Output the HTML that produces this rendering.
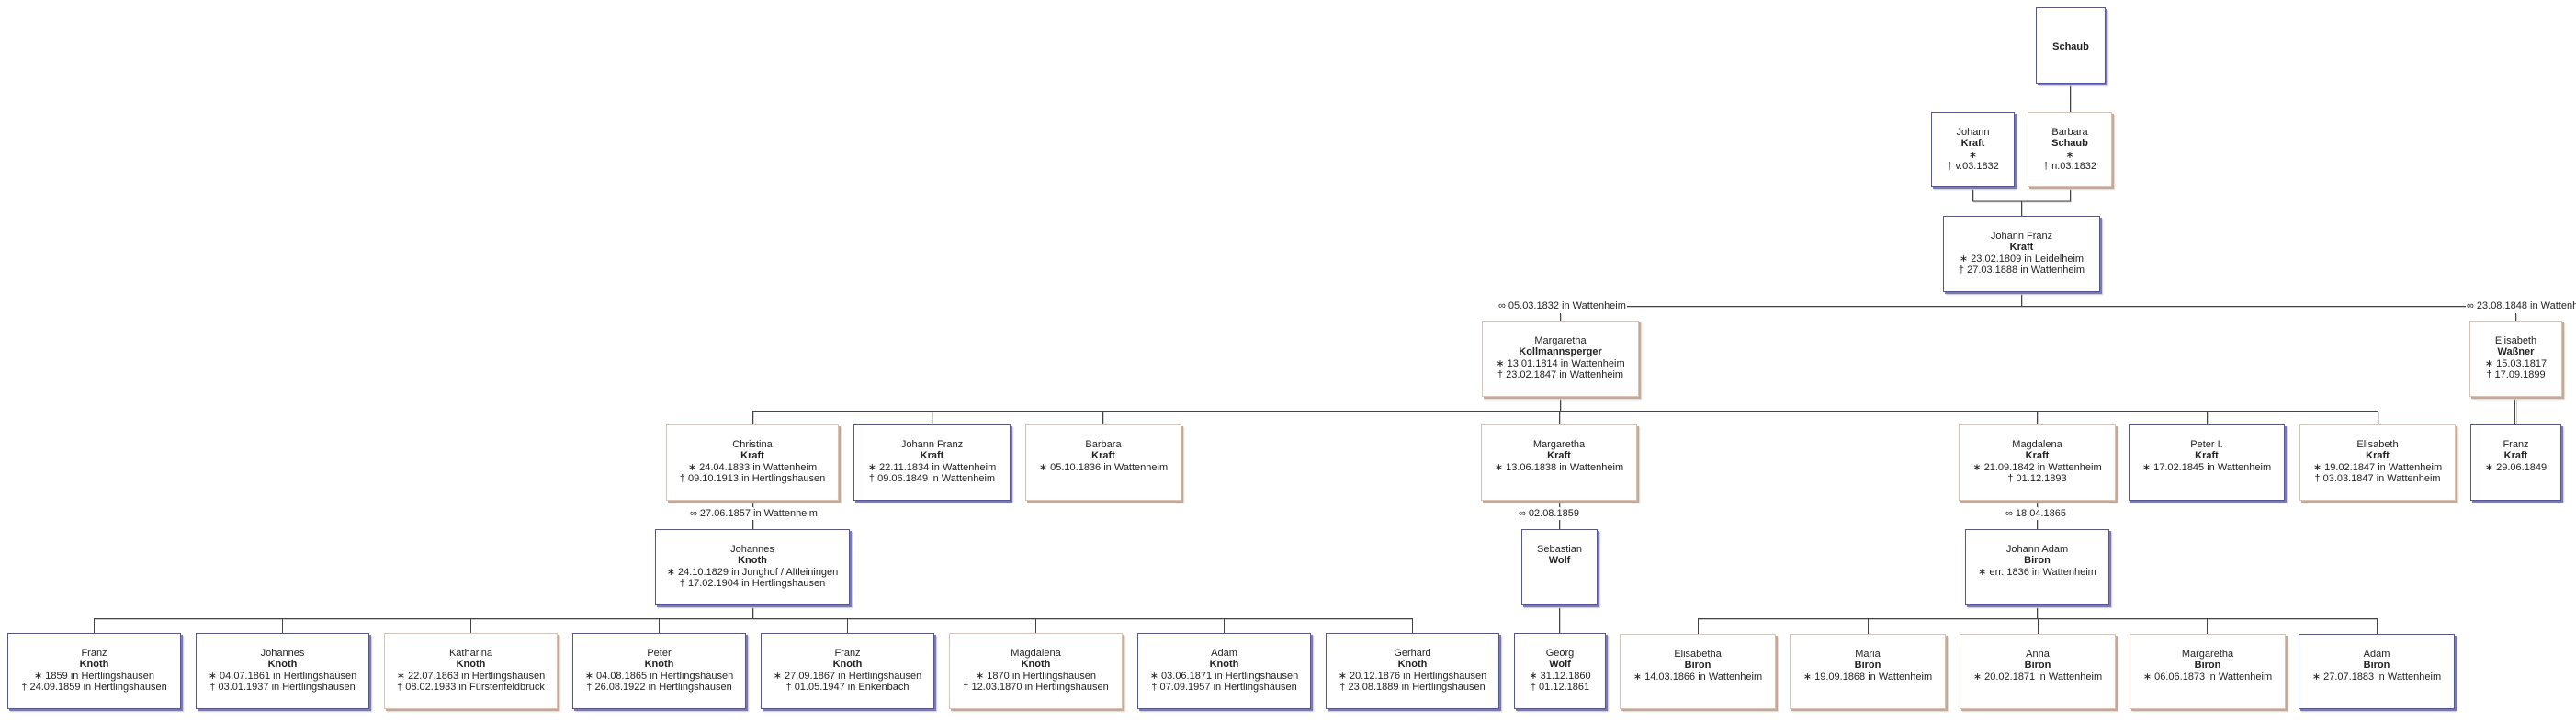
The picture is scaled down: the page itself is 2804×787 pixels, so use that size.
<!DOCTYPE html>
<html><head><meta charset="utf-8">
<style>
html,body{margin:0;padding:0;background:#fff;}
body{width:2804px;height:787px;position:relative;overflow:hidden;font-family:"Liberation Sans",Arial,sans-serif;font-size:11px;color:#222;}
.b{position:absolute;box-sizing:border-box;background:#fff;text-align:center;line-height:12.3px;padding-top:15px;}
.m{border:1px solid #55559f;box-shadow:2px 2px 0 #7a7ab8,3px 3px 1px #c8c8dc;}
.f{border:1px solid #dcc2b0;box-shadow:2px 2px 0 #c4a898,3px 3px 1px #e0d4cc;}
.b b{font-weight:bold;}
.l{position:absolute;font-size:11px;line-height:12px;white-space:nowrap;background:#fff;padding:0 1px;}
svg{position:absolute;left:0;top:0;}
</style></head><body>
<svg width="2804" height="787">
<g fill="none" stroke="#ccc" stroke-width="1">
<path d="M2254.5 91V122 M2148.5 204V220H2254.5V204 M2201.5 220V235 M2201.5 318V334 M1770 334.5H2686 M1699.5 342V349 M2739.5 342V349 M1699.5 432V448 M820 448.5H2589 M820.5 448V462 M1015.5 448V462 M1201.5 448V462 M1698.5 448V462 M2218.5 448V462 M2403.5 448V462 M2589.5 448V462 M820.5 546V553 M820.5 566V576 M1698.5 545V553 M1698.5 566V576 M2218.5 545V553 M2218.5 566V576 M1698.5 659V689 M2739.5 432V462 M820.5 659V674 M103 674.5H1538 M2218.5 659V674 M1849 674.5H2588"/>
</g>
<g fill="none" stroke="#444" stroke-width="1">
<path d="M2253.5 90V122 M2147.5 203V219H2253.5V203 M2200.5 219V235 M2200.5 317V333 M1770 333.5H2686 M1698.5 341V349 M2738.5 341V349 M1698.5 431V447 M819 447.5H2588 M2737.5 431V462 M819.5 545V552 M819.5 566V576 M1697.5 544V552 M1697.5 566V576 M2217.5 544V552 M2217.5 566V576 M1697.5 658V689 M819.5 658V673 M102 673.5H1537 M2217.5 658V673 M1848 673.5H2587"/>
<path d="M819.5 447V462 M1014.5 447V462 M1200.5 447V462 M1697.5 447V462 M2217.5 447V462 M2402.5 447V462 M2588.5 447V462"/>
<path d="M102.5 673V689 M307.5 673V689 M512.5 673V689 M717.5 673V689 M922.5 673V689 M1127.5 673V689 M1332.5 673V689 M1537.5 673V689"/>
<path d="M1848.5 673V690 M2033.5 673V690 M2218.5 673V690 M2402.5 673V690 M2587.5 673V690"/>
</g>
</svg>

<div class="b m" style="left:2216px;top:8px;width:76px;height:83px;padding-top:36px;"><b>Schaub</b></div>
<div class="b m" style="left:2102px;top:122px;width:91px;height:82px;">Johann<br><b>Kraft</b><br>∗<br>† v.03.1832</div>
<div class="b f" style="left:2207px;top:122px;width:92px;height:82px;">Barbara<br><b>Schaub</b><br>∗<br>† n.03.1832</div>
<div class="b m" style="left:2115px;top:235px;width:171px;height:83px;">Johann Franz<br><b>Kraft</b><br>∗ 23.02.1809 in Leidelheim<br>† 27.03.1888 in Wattenheim</div>

<div class="l" style="left:1630px;top:327px;">∞ 05.03.1832 in Wattenheim</div>
<div class="l" style="left:2684px;top:327px;">∞ 23.08.1848 in Wattenheim</div>

<div class="b f" style="left:1613px;top:349px;width:171px;height:83px;">Margaretha<br><b>Kollmannsperger</b><br>∗ 13.01.1814 in Wattenheim<br>† 23.02.1847 in Wattenheim</div>
<div class="b f" style="left:2688px;top:349px;width:101px;height:83px;">Elisabeth<br><b>Waßner</b><br>∗ 15.03.1817<br>† 17.09.1899</div>

<div class="b f" style="left:725px;top:462px;width:188px;height:83px;">Christina<br><b>Kraft</b><br>∗ 24.04.1833 in Wattenheim<br>† 09.10.1913 in Hertlingshausen</div>
<div class="b m" style="left:929px;top:462px;width:171px;height:83px;">Johann Franz<br><b>Kraft</b><br>∗ 22.11.1834 in Wattenheim<br>† 09.06.1849 in Wattenheim</div>
<div class="b f" style="left:1116px;top:462px;width:170px;height:83px;">Barbara<br><b>Kraft</b><br>∗ 05.10.1836 in Wattenheim</div>
<div class="b f" style="left:1612px;top:462px;width:170px;height:83px;">Margaretha<br><b>Kraft</b><br>∗ 13.06.1838 in Wattenheim</div>
<div class="b f" style="left:2132px;top:462px;width:171px;height:83px;">Magdalena<br><b>Kraft</b><br>∗ 21.09.1842 in Wattenheim<br>† 01.12.1893</div>
<div class="b m" style="left:2317px;top:462px;width:170px;height:83px;">Peter I.<br><b>Kraft</b><br>∗ 17.02.1845 in Wattenheim</div>
<div class="b f" style="left:2503px;top:462px;width:170px;height:83px;">Elisabeth<br><b>Kraft</b><br>∗ 19.02.1847 in Wattenheim<br>† 03.03.1847 in Wattenheim</div>
<div class="b m" style="left:2689px;top:462px;width:99px;height:83px;">Franz<br><b>Kraft</b><br>∗ 29.06.1849</div>

<div class="l" style="left:750px;top:553px;">∞ 27.06.1857 in Wattenheim</div>
<div class="l" style="left:1652px;top:553px;">∞ 02.08.1859</div>
<div class="l" style="left:2182px;top:553px;">∞ 18.04.1865</div>

<div class="b m" style="left:713px;top:576px;width:212px;height:83px;">Johannes<br><b>Knoth</b><br>∗ 24.10.1829 in Junghof / Altleiningen<br>† 17.02.1904 in Hertlingshausen</div>
<div class="b m" style="left:1656px;top:576px;width:83px;height:83px;">Sebastian<br><b>Wolf</b></div>
<div class="b m" style="left:2139px;top:576px;width:157px;height:83px;">Johann Adam<br><b>Biron</b><br>∗ err. 1836 in Wattenheim</div>

<div class="b m" style="left:8px;top:689px;width:189px;height:83px;">Franz<br><b>Knoth</b><br>∗ 1859 in Hertlingshausen<br>† 24.09.1859 in Hertlingshausen</div>
<div class="b m" style="left:213px;top:689px;width:189px;height:83px;">Johannes<br><b>Knoth</b><br>∗ 04.07.1861 in Hertlingshausen<br>† 03.01.1937 in Hertlingshausen</div>
<div class="b f" style="left:418px;top:689px;width:189px;height:83px;">Katharina<br><b>Knoth</b><br>∗ 22.07.1863 in Hertlingshausen<br>† 08.02.1933 in Fürstenfeldbruck</div>
<div class="b m" style="left:623px;top:689px;width:189px;height:83px;">Peter<br><b>Knoth</b><br>∗ 04.08.1865 in Hertlingshausen<br>† 26.08.1922 in Hertlingshausen</div>
<div class="b m" style="left:828px;top:689px;width:189px;height:83px;">Franz<br><b>Knoth</b><br>∗ 27.09.1867 in Hertlingshausen<br>† 01.05.1947 in Enkenbach</div>
<div class="b f" style="left:1033px;top:689px;width:189px;height:83px;">Magdalena<br><b>Knoth</b><br>∗ 1870 in Hertlingshausen<br>† 12.03.1870 in Hertlingshausen</div>
<div class="b m" style="left:1238px;top:689px;width:189px;height:83px;">Adam<br><b>Knoth</b><br>∗ 03.06.1871 in Hertlingshausen<br>† 07.09.1957 in Hertlingshausen</div>
<div class="b m" style="left:1443px;top:689px;width:189px;height:83px;">Gerhard<br><b>Knoth</b><br>∗ 20.12.1876 in Hertlingshausen<br>† 23.08.1889 in Hertlingshausen</div>
<div class="b m" style="left:1648px;top:689px;width:100px;height:83px;">Georg<br><b>Wolf</b><br>∗ 31.12.1860<br>† 01.12.1861</div>
<div class="b f" style="left:1763px;top:690px;width:170px;height:82px;">Elisabetha<br><b>Biron</b><br>∗ 14.03.1866 in Wattenheim</div>
<div class="b f" style="left:1948px;top:690px;width:170px;height:82px;">Maria<br><b>Biron</b><br>∗ 19.09.1868 in Wattenheim</div>
<div class="b f" style="left:2133px;top:690px;width:170px;height:82px;">Anna<br><b>Biron</b><br>∗ 20.02.1871 in Wattenheim</div>
<div class="b f" style="left:2318px;top:690px;width:170px;height:82px;">Margaretha<br><b>Biron</b><br>∗ 06.06.1873 in Wattenheim</div>
<div class="b m" style="left:2502px;top:690px;width:170px;height:82px;">Adam<br><b>Biron</b><br>∗ 27.07.1883 in Wattenheim</div>
</body></html>
